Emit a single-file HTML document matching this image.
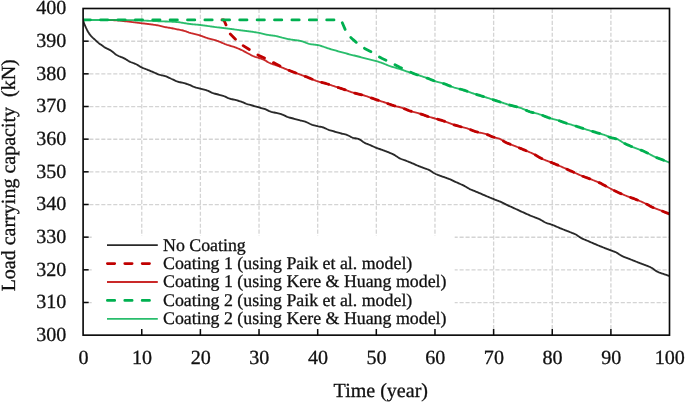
<!DOCTYPE html>
<html lang="en">
<head>
<meta charset="utf-8">
<title>Load carrying capacity vs Time</title>
<style>
html,body{margin:0;padding:0;background:#fff;}
body{width:685px;height:402px;overflow:hidden;position:relative;font-family:"Liberation Serif","Times New Roman",serif;}
</style>
</head>
<body>
<svg width="685" height="402" viewBox="0 0 685 402" style="position:absolute;left:0;top:0;will-change:transform;text-rendering:geometricPrecision"><rect x="0" y="0" width="685" height="402" fill="#fff"/><g stroke="#d4d4d4" stroke-width="1.3" stroke-dasharray="4.1 1.865" fill="none"><line x1="141.75" y1="8.90" x2="141.75" y2="334.55"/><line x1="200.39" y1="8.90" x2="200.39" y2="334.55"/><line x1="259.03" y1="8.90" x2="259.03" y2="334.55"/><line x1="317.68" y1="8.90" x2="317.68" y2="334.55"/><line x1="376.32" y1="8.90" x2="376.32" y2="334.55"/><line x1="434.97" y1="8.90" x2="434.97" y2="334.55"/><line x1="493.62" y1="8.90" x2="493.62" y2="334.55"/><line x1="552.26" y1="8.90" x2="552.26" y2="334.55"/><line x1="610.90" y1="8.90" x2="610.90" y2="334.55"/></g><g stroke="#d4d4d4" stroke-width="1.3" stroke-dasharray="4.1 1.871" fill="none"><line x1="83.38" y1="302.58" x2="668.90" y2="302.58"/><line x1="83.38" y1="269.92" x2="668.90" y2="269.92"/><line x1="83.38" y1="237.25" x2="668.90" y2="237.25"/><line x1="83.38" y1="204.59" x2="668.90" y2="204.59"/><line x1="83.38" y1="171.92" x2="668.90" y2="171.92"/><line x1="83.38" y1="139.26" x2="668.90" y2="139.26"/><line x1="83.38" y1="106.59" x2="668.90" y2="106.59"/><line x1="83.38" y1="73.93" x2="668.90" y2="73.93"/><line x1="83.38" y1="41.27" x2="668.90" y2="41.27"/></g><defs><clipPath id="pc"><rect x="83.1" y="8.5" width="586.4" height="326.65"/></clipPath></defs><g clip-path="url(#pc)"><path d="M83.15,20.00 L84.15,23.65 L85.15,25.86 L86.15,28.15 L87.15,30.19 L88.15,32.05 L89.15,33.62 L90.15,34.91 L91.15,36.05 L92.15,37.11 L93.15,38.09 L94.15,39.02 L95.16,39.94 L96.16,40.86 L97.16,41.77 L98.16,42.61 L99.16,43.40 L100.16,44.15 L101.16,44.87 L102.16,45.58 L103.16,46.29 L104.16,46.97 L105.16,47.61 L106.16,48.19 L107.16,48.69 L108.16,49.14 L109.16,49.61 L110.16,50.15 L111.16,50.79 L112.16,51.49 L113.16,52.25 L114.16,53.14 L115.16,54.03 L116.16,54.73 L117.16,55.29 L118.16,55.79 L119.17,56.25 L120.17,56.66 L121.17,57.05 L122.17,57.44 L123.17,57.86 L124.17,58.33 L125.17,58.89 L126.17,59.50 L127.17,60.13 L128.17,60.75 L129.17,61.33 L130.17,61.83 L131.17,62.25 L132.17,62.63 L133.17,63.00 L134.17,63.37 L135.17,63.77 L136.17,64.23 L137.17,64.78 L138.17,65.39 L139.17,66.02 L140.17,66.63 L141.17,67.19 L142.18,67.66 L143.18,68.09 L144.18,68.49 L145.18,68.87 L146.18,69.25 L147.18,69.63 L148.18,70.03 L149.18,70.45 L150.18,70.87 L151.18,71.30 L152.18,71.72 L153.18,72.14 L154.18,72.56 L155.18,72.99 L156.18,73.43 L157.18,73.87 L158.18,74.28 L159.18,74.65 L160.18,74.96 L161.18,75.23 L162.18,75.46 L163.18,75.68 L164.18,75.90 L165.18,76.16 L166.19,76.48 L167.19,76.87 L168.19,77.32 L169.19,77.80 L170.19,78.29 L171.19,78.77 L172.19,79.22 L173.19,79.68 L174.19,80.16 L175.19,80.62 L176.19,81.05 L177.19,81.43 L178.19,81.75 L179.19,82.03 L180.19,82.27 L181.19,82.50 L182.19,82.71 L183.19,82.94 L184.19,83.18 L185.19,83.46 L186.19,83.75 L187.19,84.07 L188.19,84.41 L189.20,84.77 L190.20,85.20 L191.20,85.68 L192.20,86.16 L193.20,86.61 L194.20,86.98 L195.20,87.30 L196.20,87.60 L197.20,87.87 L198.20,88.13 L199.20,88.38 L200.20,88.65 L201.20,88.91 L202.20,89.15 L203.20,89.39 L204.20,89.63 L205.20,89.89 L206.20,90.18 L207.20,90.51 L208.20,90.92 L209.20,91.41 L210.20,91.92 L211.20,92.42 L212.21,92.86 L213.21,93.21 L214.21,93.50 L215.21,93.76 L216.21,94.00 L217.21,94.24 L218.21,94.51 L219.21,94.78 L220.21,95.04 L221.21,95.31 L222.21,95.60 L223.21,95.90 L224.21,96.25 L225.21,96.66 L226.21,97.12 L227.21,97.60 L228.21,98.05 L229.21,98.45 L230.21,98.77 L231.21,99.03 L232.21,99.26 L233.21,99.48 L234.21,99.69 L235.21,99.93 L236.22,100.19 L237.22,100.46 L238.22,100.75 L239.22,101.04 L240.22,101.36 L241.22,101.69 L242.22,102.04 L243.22,102.45 L244.22,102.89 L245.22,103.33 L246.22,103.76 L247.22,104.14 L248.22,104.45 L249.22,104.71 L250.22,104.95 L251.22,105.21 L252.22,105.48 L253.22,105.76 L254.22,106.04 L255.22,106.33 L256.22,106.62 L257.22,106.90 L258.22,107.19 L259.23,107.47 L260.23,107.75 L261.23,108.02 L262.23,108.29 L263.23,108.57 L264.23,108.88 L265.23,109.22 L266.23,109.63 L267.23,110.10 L268.23,110.59 L269.23,111.06 L270.23,111.47 L271.23,111.80 L272.23,112.06 L273.23,112.30 L274.23,112.51 L275.23,112.72 L276.23,112.94 L277.23,113.18 L278.23,113.43 L279.23,113.67 L280.23,113.93 L281.23,114.22 L282.23,114.55 L283.24,114.97 L284.24,115.44 L285.24,115.94 L286.24,116.42 L287.24,116.85 L288.24,117.19 L289.24,117.49 L290.24,117.75 L291.24,118.00 L292.24,118.25 L293.24,118.50 L294.24,118.77 L295.24,119.06 L296.24,119.35 L297.24,119.64 L298.24,119.93 L299.24,120.21 L300.24,120.48 L301.24,120.72 L302.24,120.95 L303.24,121.18 L304.24,121.43 L305.24,121.71 L306.25,122.05 L307.25,122.48 L308.25,122.98 L309.25,123.50 L310.25,124.00 L311.25,124.43 L312.25,124.78 L313.25,125.08 L314.25,125.36 L315.25,125.62 L316.25,125.86 L317.25,126.11 L318.25,126.34 L319.25,126.54 L320.25,126.74 L321.25,126.96 L322.25,127.20 L323.25,127.49 L324.25,127.86 L325.25,128.29 L326.25,128.76 L327.25,129.23 L328.25,129.66 L329.25,130.02 L330.26,130.35 L331.26,130.66 L332.26,130.95 L333.26,131.23 L334.26,131.51 L335.26,131.80 L336.26,132.10 L337.26,132.38 L338.26,132.67 L339.26,132.95 L340.26,133.23 L341.26,133.49 L342.26,133.74 L343.26,133.96 L344.26,134.19 L345.26,134.44 L346.26,134.72 L347.26,135.05 L348.26,135.49 L349.26,136.01 L350.26,136.55 L351.26,137.07 L352.26,137.51 L353.27,137.84 L354.27,138.08 L355.27,138.28 L356.27,138.47 L357.27,138.67 L358.27,138.93 L359.27,139.28 L360.27,139.82 L361.27,140.49 L362.27,141.22 L363.27,141.94 L364.27,142.59 L365.27,143.10 L366.27,143.56 L367.27,143.97 L368.27,144.37 L369.27,144.76 L370.27,145.17 L371.27,145.60 L372.27,146.06 L373.27,146.52 L374.27,146.98 L375.27,147.42 L376.27,147.83 L377.28,148.21 L378.28,148.57 L379.28,148.91 L380.28,149.25 L381.28,149.59 L382.28,149.94 L383.28,150.30 L384.28,150.67 L385.28,151.05 L386.28,151.43 L387.28,151.82 L388.28,152.23 L389.28,152.63 L390.28,153.05 L391.28,153.47 L392.28,153.92 L393.28,154.39 L394.28,154.90 L395.28,155.50 L396.28,156.16 L397.28,156.84 L398.28,157.49 L399.28,158.09 L400.29,158.58 L401.29,159.00 L402.29,159.39 L403.29,159.75 L404.29,160.10 L405.29,160.47 L406.29,160.85 L407.29,161.25 L408.29,161.65 L409.29,162.05 L410.29,162.45 L411.29,162.87 L412.29,163.29 L413.29,163.72 L414.29,164.17 L415.29,164.61 L416.29,165.06 L417.29,165.49 L418.29,165.90 L419.29,166.31 L420.29,166.71 L421.29,167.10 L422.29,167.48 L423.30,167.86 L424.30,168.23 L425.30,168.57 L426.30,168.90 L427.30,169.25 L428.30,169.63 L429.30,170.09 L430.30,170.67 L431.30,171.32 L432.30,172.01 L433.30,172.68 L434.30,173.29 L435.30,173.79 L436.30,174.24 L437.30,174.65 L438.30,175.04 L439.30,175.42 L440.30,175.78 L441.30,176.15 L442.30,176.52 L443.30,176.88 L444.30,177.22 L445.30,177.56 L446.30,177.90 L447.31,178.26 L448.31,178.63 L449.31,179.02 L450.31,179.45 L451.31,179.90 L452.31,180.37 L453.31,180.85 L454.31,181.33 L455.31,181.80 L456.31,182.26 L457.31,182.70 L458.31,183.14 L459.31,183.58 L460.31,184.02 L461.31,184.47 L462.31,184.93 L463.31,185.41 L464.31,185.91 L465.31,186.47 L466.31,187.06 L467.31,187.67 L468.31,188.25 L469.31,188.81 L470.32,189.30 L471.32,189.75 L472.32,190.18 L473.32,190.59 L474.32,190.98 L475.32,191.37 L476.32,191.77 L477.32,192.18 L478.32,192.60 L479.32,193.03 L480.32,193.47 L481.32,193.90 L482.32,194.34 L483.32,194.78 L484.32,195.22 L485.32,195.65 L486.32,196.07 L487.32,196.49 L488.32,196.91 L489.32,197.33 L490.32,197.75 L491.32,198.16 L492.32,198.57 L493.32,198.98 L494.33,199.38 L495.33,199.77 L496.33,200.15 L497.33,200.53 L498.33,200.91 L499.33,201.31 L500.33,201.71 L501.33,202.14 L502.33,202.59 L503.33,203.08 L504.33,203.59 L505.33,204.11 L506.33,204.63 L507.33,205.12 L508.33,205.59 L509.33,206.04 L510.33,206.48 L511.33,206.92 L512.33,207.38 L513.33,207.84 L514.33,208.30 L515.33,208.76 L516.33,209.23 L517.34,209.69 L518.34,210.16 L519.34,210.62 L520.34,211.08 L521.34,211.54 L522.34,212.00 L523.34,212.46 L524.34,212.92 L525.34,213.38 L526.34,213.83 L527.34,214.28 L528.34,214.72 L529.34,215.16 L530.34,215.59 L531.34,215.99 L532.34,216.38 L533.34,216.76 L534.34,217.14 L535.34,217.52 L536.34,217.91 L537.34,218.30 L538.34,218.72 L539.34,219.17 L540.34,219.65 L541.35,220.20 L542.35,220.80 L543.35,221.41 L544.35,221.99 L545.35,222.50 L546.35,222.92 L547.35,223.28 L548.35,223.60 L549.35,223.90 L550.35,224.20 L551.35,224.52 L552.35,224.87 L553.35,225.26 L554.35,225.68 L555.35,226.11 L556.35,226.56 L557.35,227.01 L558.35,227.45 L559.35,227.88 L560.35,228.30 L561.35,228.70 L562.35,229.10 L563.35,229.50 L564.36,229.89 L565.36,230.28 L566.36,230.67 L567.36,231.07 L568.36,231.46 L569.36,231.86 L570.36,232.26 L571.36,232.65 L572.36,233.03 L573.36,233.42 L574.36,233.83 L575.36,234.28 L576.36,234.80 L577.36,235.43 L578.36,236.14 L579.36,236.87 L580.36,237.55 L581.36,238.11 L582.36,238.61 L583.36,239.07 L584.36,239.51 L585.36,239.93 L586.36,240.34 L587.37,240.75 L588.37,241.17 L589.37,241.60 L590.37,242.04 L591.37,242.48 L592.37,242.92 L593.37,243.35 L594.37,243.78 L595.37,244.22 L596.37,244.64 L597.37,245.06 L598.37,245.48 L599.37,245.89 L600.37,246.30 L601.37,246.70 L602.37,247.10 L603.37,247.49 L604.37,247.88 L605.37,248.27 L606.37,248.66 L607.37,249.04 L608.37,249.43 L609.37,249.81 L610.37,250.19 L611.38,250.56 L612.38,250.91 L613.38,251.26 L614.38,251.63 L615.38,252.04 L616.38,252.54 L617.38,253.13 L618.38,253.77 L619.38,254.43 L620.38,255.07 L621.38,255.65 L622.38,256.15 L623.38,256.61 L624.38,257.03 L625.38,257.44 L626.38,257.82 L627.38,258.20 L628.38,258.58 L629.38,258.96 L630.38,259.35 L631.38,259.75 L632.38,260.15 L633.38,260.55 L634.39,260.95 L635.39,261.34 L636.39,261.74 L637.39,262.14 L638.39,262.53 L639.39,262.93 L640.39,263.32 L641.39,263.71 L642.39,264.10 L643.39,264.48 L644.39,264.84 L645.39,265.20 L646.39,265.56 L647.39,265.94 L648.39,266.33 L649.39,266.75 L650.39,267.20 L651.39,267.71 L652.39,268.33 L653.39,269.02 L654.39,269.75 L655.39,270.46 L656.39,271.13 L657.39,271.70 L658.40,272.16 L659.40,272.56 L660.40,272.92 L661.40,273.26 L662.40,273.59 L663.40,273.93 L664.40,274.28 L665.40,274.64 L666.40,274.99 L667.40,275.35 L668.40,275.70 L669.40,276.05" fill="none" stroke="#000" stroke-opacity="0.84" stroke-width="1.85" stroke-linejoin="round"/><path d="M221.90,19.95 L223.85,19.95 L229.70,33.40 L235.60,39.30 L241.40,44.60 L247.30,48.30 L253.20,52.00 L259.00,55.60 L264.90,58.10 L270.80,61.30 L276.60,64.20 L282.50,67.30 L283.50,67.81 L284.50,68.32 L285.51,68.81 L286.51,69.28 L287.51,69.73 L288.51,70.16 L289.52,70.57 L290.52,70.97 L291.52,71.36 L292.52,71.74 L293.53,72.11 L294.53,72.47 L295.53,72.84 L296.53,73.21 L297.53,73.58 L298.54,73.96 L299.54,74.33 L300.54,74.70 L301.54,75.07 L302.55,75.44 L303.55,75.81 L304.55,76.18 L305.55,76.55 L306.56,76.93 L307.56,77.31 L308.56,77.70 L309.56,78.10 L310.57,78.52 L311.57,78.94 L312.57,79.37 L313.57,79.78 L314.57,80.19 L315.58,80.58 L316.58,80.95 L317.58,81.30 L318.58,81.61 L319.59,81.90 L320.59,82.18 L321.59,82.44 L322.59,82.69 L323.60,82.94 L324.60,83.20 L325.60,83.46 L326.60,83.73 L327.60,84.02 L328.61,84.33 L329.61,84.66 L330.61,85.00 L331.61,85.34 L332.62,85.69 L333.62,86.03 L334.62,86.37 L335.62,86.70 L336.63,87.03 L337.63,87.35 L338.63,87.67 L339.63,87.99 L340.64,88.31 L341.64,88.64 L342.64,88.96 L343.64,89.30 L344.64,89.64 L345.65,89.99 L346.65,90.36 L347.65,90.73 L348.65,91.10 L349.66,91.47 L350.66,91.84 L351.66,92.19 L352.66,92.52 L353.67,92.83 L354.67,93.12 L355.67,93.39 L356.67,93.64 L357.67,93.88 L358.68,94.11 L359.68,94.34 L360.68,94.58 L361.68,94.82 L362.69,95.08 L363.69,95.35 L364.69,95.65 L365.69,95.96 L366.70,96.29 L367.70,96.64 L368.70,96.99 L369.70,97.35 L370.71,97.71 L371.71,98.08 L372.71,98.44 L373.71,98.80 L374.71,99.16 L375.72,99.50 L376.72,99.84 L377.72,100.16 L378.72,100.48 L379.73,100.80 L380.73,101.12 L381.73,101.44 L382.73,101.76 L383.74,102.10 L384.74,102.44 L385.74,102.81 L386.74,103.18 L387.74,103.56 L388.75,103.94 L389.75,104.31 L390.75,104.68 L391.75,105.03 L392.76,105.36 L393.76,105.67 L394.76,105.94 L395.76,106.20 L396.77,106.43 L397.77,106.66 L398.77,106.90 L399.77,107.15 L400.78,107.43 L401.78,107.75 L402.78,108.10 L403.78,108.49 L404.78,108.89 L405.79,109.30 L406.79,109.72 L407.79,110.12 L408.79,110.50 L409.80,110.85 L410.80,111.17 L411.80,111.47 L412.80,111.75 L413.81,112.02 L414.81,112.29 L415.81,112.55 L416.81,112.82 L417.81,113.09 L418.82,113.38 L419.82,113.68 L420.82,113.99 L421.82,114.33 L422.83,114.68 L423.83,115.04 L424.83,115.40 L425.83,115.77 L426.84,116.12 L427.84,116.46 L428.84,116.79 L429.84,117.10 L430.85,117.38 L431.85,117.64 L432.85,117.89 L433.85,118.15 L434.85,118.42 L435.86,118.70 L436.86,118.98 L437.86,119.27 L438.86,119.56 L439.87,119.85 L440.87,120.16 L441.87,120.46 L442.87,120.78 L443.88,121.10 L444.88,121.43 L445.88,121.77 L446.88,122.14 L447.88,122.52 L448.89,122.91 L449.89,123.30 L450.89,123.69 L451.89,124.07 L452.90,124.44 L453.90,124.79 L454.90,125.11 L455.90,125.41 L456.91,125.70 L457.91,125.97 L458.91,126.23 L459.91,126.49 L460.92,126.74 L461.92,126.99 L462.92,127.25 L463.92,127.51 L464.92,127.78 L465.93,128.07 L466.93,128.38 L467.93,128.71 L468.93,129.07 L469.94,129.46 L470.94,129.86 L471.94,130.26 L472.94,130.66 L473.95,131.03 L474.95,131.39 L475.95,131.70 L476.95,131.98 L477.95,132.23 L478.96,132.46 L479.96,132.68 L480.96,132.89 L481.96,133.11 L482.97,133.33 L483.97,133.57 L484.97,133.83 L485.97,134.12 L486.98,134.47 L487.98,134.86 L488.98,135.29 L489.98,135.73 L490.98,136.17 L491.99,136.59 L492.99,136.96 L493.99,137.28 L494.99,137.54 L496.00,137.78 L497.00,138.02 L498.00,138.28 L499.00,138.60 L500.01,138.99 L501.01,139.51 L502.01,140.12 L503.01,140.76 L504.02,141.40 L505.02,142.00 L506.02,142.50 L507.02,142.96 L508.02,143.38 L509.03,143.78 L510.03,144.17 L511.03,144.55 L512.03,144.92 L513.04,145.29 L514.04,145.67 L515.04,146.06 L516.04,146.47 L517.05,146.89 L518.05,147.31 L519.05,147.74 L520.05,148.17 L521.05,148.60 L522.06,149.03 L523.06,149.47 L524.06,149.90 L525.06,150.33 L526.07,150.76 L527.07,151.17 L528.07,151.58 L529.07,151.99 L530.08,152.40 L531.08,152.83 L532.08,153.27 L533.08,153.74 L534.09,154.25 L535.09,154.80 L536.09,155.38 L537.09,155.98 L538.09,156.58 L539.10,157.18 L540.10,157.75 L541.10,158.28 L542.10,158.77 L543.11,159.23 L544.11,159.66 L545.11,160.07 L546.11,160.46 L547.12,160.85 L548.12,161.23 L549.12,161.61 L550.12,162.00 L551.12,162.39 L552.13,162.79 L553.13,163.20 L554.13,163.62 L555.13,164.03 L556.14,164.45 L557.14,164.88 L558.14,165.30 L559.14,165.73 L560.15,166.16 L561.15,166.59 L562.15,167.03 L563.15,167.47 L564.16,167.92 L565.16,168.38 L566.16,168.83 L567.16,169.29 L568.16,169.75 L569.17,170.20 L570.17,170.66 L571.17,171.12 L572.17,171.57 L573.18,172.02 L574.18,172.48 L575.18,172.94 L576.18,173.40 L577.19,173.86 L578.19,174.31 L579.19,174.76 L580.19,175.20 L581.19,175.62 L582.20,176.03 L583.20,176.43 L584.20,176.81 L585.20,177.19 L586.21,177.56 L587.21,177.92 L588.21,178.29 L589.21,178.66 L590.22,179.03 L591.22,179.41 L592.22,179.80 L593.22,180.19 L594.23,180.58 L595.23,180.98 L596.23,181.38 L597.23,181.79 L598.23,182.21 L599.24,182.65 L600.24,183.11 L601.24,183.61 L602.24,184.14 L603.25,184.69 L604.25,185.25 L605.25,185.80 L606.25,186.33 L607.26,186.87 L608.26,187.41 L609.26,187.95 L610.26,188.49 L611.26,189.02 L612.27,189.55 L613.27,190.07 L614.27,190.58 L615.27,191.08 L616.28,191.55 L617.28,192.02 L618.28,192.48 L619.28,192.92 L620.29,193.36 L621.29,193.80 L622.29,194.22 L623.29,194.64 L624.30,195.05 L625.30,195.46 L626.30,195.86 L627.30,196.25 L628.30,196.62 L629.31,196.99 L630.31,197.35 L631.31,197.71 L632.31,198.07 L633.32,198.43 L634.32,198.81 L635.32,199.19 L636.32,199.59 L637.33,199.99 L638.33,200.40 L639.33,200.82 L640.33,201.24 L641.33,201.67 L642.34,202.11 L643.34,202.56 L644.34,203.01 L645.34,203.48 L646.35,203.97 L647.35,204.49 L648.35,205.04 L649.35,205.60 L650.36,206.16 L651.36,206.70 L652.36,207.20 L653.36,207.65 L654.37,208.07 L655.37,208.47 L656.37,208.85 L657.37,209.23 L658.37,209.60 L659.38,209.96 L660.38,210.34 L661.38,210.72 L662.38,211.12 L663.39,211.53 L664.39,211.93 L665.39,212.34 L666.39,212.75 L667.40,213.16 L668.40,213.58 L669.40,214.00" fill="none" stroke="#c00000" stroke-width="2.8" stroke-linecap="round" stroke-dasharray="7.3 10.1" stroke-dashoffset="17.35" stroke-linejoin="round"/><path d="M106.00,20.05 L107.00,20.05 L108.00,20.06 L109.00,20.08 L110.00,20.10 L111.00,20.12 L112.00,20.15 L113.00,20.18 L114.01,20.23 L115.01,20.29 L116.01,20.36 L117.01,20.43 L118.01,20.50 L119.01,20.58 L120.01,20.67 L121.01,20.77 L122.01,20.87 L123.01,20.98 L124.01,21.09 L125.01,21.21 L126.01,21.33 L127.01,21.45 L128.02,21.58 L129.02,21.70 L130.02,21.81 L131.02,21.93 L132.02,22.05 L133.02,22.17 L134.02,22.30 L135.02,22.42 L136.02,22.55 L137.02,22.68 L138.02,22.80 L139.02,22.93 L140.02,23.05 L141.02,23.18 L142.03,23.30 L143.03,23.42 L144.03,23.54 L145.03,23.66 L146.03,23.78 L147.03,23.90 L148.03,24.02 L149.03,24.15 L150.03,24.28 L151.03,24.41 L152.03,24.54 L153.03,24.67 L154.03,24.81 L155.03,24.95 L156.04,25.11 L157.04,25.27 L158.04,25.44 L159.04,25.65 L160.04,25.88 L161.04,26.13 L162.04,26.38 L163.04,26.63 L164.04,26.86 L165.04,27.07 L166.04,27.25 L167.04,27.42 L168.04,27.58 L169.04,27.74 L170.05,27.91 L171.05,28.08 L172.05,28.27 L173.05,28.47 L174.05,28.68 L175.05,28.89 L176.05,29.11 L177.05,29.31 L178.05,29.50 L179.05,29.69 L180.05,29.87 L181.05,30.07 L182.05,30.28 L183.05,30.51 L184.06,30.79 L185.06,31.10 L186.06,31.44 L187.06,31.79 L188.06,32.15 L189.06,32.51 L190.06,32.84 L191.06,33.15 L192.06,33.43 L193.06,33.69 L194.06,33.94 L195.06,34.19 L196.06,34.44 L197.06,34.68 L198.07,34.94 L199.07,35.21 L200.07,35.50 L201.07,35.81 L202.07,36.17 L203.07,36.54 L204.07,36.92 L205.07,37.30 L206.07,37.66 L207.07,37.99 L208.07,38.29 L209.07,38.57 L210.07,38.84 L211.07,39.10 L212.08,39.35 L213.08,39.62 L214.08,39.88 L215.08,40.17 L216.08,40.47 L217.08,40.79 L218.08,41.15 L219.08,41.55 L220.08,41.96 L221.08,42.39 L222.08,42.83 L223.08,43.26 L224.08,43.69 L225.08,44.10 L226.09,44.48 L227.09,44.83 L228.09,45.15 L229.09,45.45 L230.09,45.74 L231.09,46.03 L232.09,46.32 L233.09,46.62 L234.09,46.94 L235.09,47.29 L236.09,47.67 L237.09,48.06 L238.09,48.48 L239.09,48.91 L240.10,49.35 L241.10,49.81 L242.10,50.29 L243.10,50.80 L244.10,51.34 L245.10,51.88 L246.10,52.43 L247.10,52.95 L248.10,53.48 L249.10,54.01 L250.10,54.55 L251.10,55.07 L252.10,55.56 L253.10,56.02 L254.11,56.43 L255.11,56.79 L256.11,57.11 L257.11,57.41 L258.11,57.71 L259.11,58.02 L260.11,58.38 L261.11,58.74 L262.11,59.12 L263.11,59.51 L264.11,59.93 L265.11,60.40 L266.11,60.92 L267.11,61.62 L268.12,62.26 L269.12,62.75 L270.12,63.18 L271.12,63.58 L272.12,63.95 L273.12,64.32 L274.12,64.66 L275.12,64.98 L276.12,65.29 L277.12,65.61 L278.12,65.96 L279.12,66.33 L280.12,66.72 L281.12,67.12 L282.13,67.53 L283.13,67.94 L284.13,68.36 L285.13,68.78 L286.13,69.19 L287.13,69.59 L288.13,69.99 L289.13,70.38 L290.13,70.77 L291.13,71.15 L292.13,71.54 L293.13,71.92 L294.13,72.30 L295.13,72.68 L296.13,73.05 L297.14,73.43 L298.14,73.81 L299.14,74.18 L300.14,74.55 L301.14,74.92 L302.14,75.29 L303.14,75.66 L304.14,76.03 L305.14,76.40 L306.14,76.77 L307.14,77.15 L308.14,77.53 L309.14,77.93 L310.14,78.34 L311.15,78.76 L312.15,79.19 L313.15,79.61 L314.15,80.02 L315.15,80.42 L316.15,80.80 L317.15,81.15 L318.15,81.48 L319.15,81.78 L320.15,82.06 L321.15,82.33 L322.15,82.58 L323.15,82.83 L324.15,83.08 L325.16,83.34 L326.16,83.61 L327.16,83.89 L328.16,84.19 L329.16,84.51 L330.16,84.84 L331.16,85.18 L332.16,85.53 L333.16,85.88 L334.16,86.22 L335.16,86.55 L336.16,86.88 L337.16,87.20 L338.16,87.52 L339.17,87.84 L340.17,88.16 L341.17,88.48 L342.17,88.81 L343.17,89.14 L344.17,89.47 L345.17,89.82 L346.17,90.18 L347.17,90.55 L348.17,90.93 L349.17,91.30 L350.17,91.66 L351.17,92.02 L352.17,92.36 L353.18,92.68 L354.18,92.98 L355.18,93.26 L356.18,93.51 L357.18,93.76 L358.18,93.99 L359.18,94.23 L360.18,94.46 L361.18,94.70 L362.18,94.95 L363.18,95.21 L364.18,95.50 L365.18,95.80 L366.18,96.12 L367.19,96.46 L368.19,96.81 L369.19,97.16 L370.19,97.52 L371.19,97.89 L372.19,98.25 L373.19,98.62 L374.19,98.97 L375.19,99.32 L376.19,99.66 L377.19,99.99 L378.19,100.32 L379.19,100.63 L380.19,100.95 L381.20,101.27 L382.20,101.59 L383.20,101.91 L384.20,102.25 L385.20,102.61 L386.20,102.98 L387.20,103.35 L388.20,103.73 L389.20,104.11 L390.20,104.48 L391.20,104.84 L392.20,105.18 L393.20,105.50 L394.20,105.79 L395.21,106.06 L396.21,106.30 L397.21,106.53 L398.21,106.77 L399.21,107.01 L400.21,107.27 L401.21,107.56 L402.21,107.90 L403.21,108.27 L404.21,108.66 L405.21,109.07 L406.21,109.48 L407.21,109.89 L408.21,110.28 L409.22,110.65 L410.22,110.99 L411.22,111.29 L412.22,111.58 L413.22,111.86 L414.22,112.13 L415.22,112.40 L416.22,112.66 L417.22,112.93 L418.22,113.21 L419.22,113.50 L420.22,113.80 L421.22,114.13 L422.22,114.47 L423.23,114.82 L424.23,115.18 L425.23,115.55 L426.23,115.91 L427.23,116.26 L428.23,116.59 L429.23,116.91 L430.23,117.21 L431.23,117.48 L432.23,117.74 L433.23,117.99 L434.23,118.25 L435.23,118.52 L436.23,118.80 L437.24,119.09 L438.24,119.37 L439.24,119.67 L440.24,119.96 L441.24,120.27 L442.24,120.58 L443.24,120.89 L444.24,121.22 L445.24,121.55 L446.24,121.90 L447.24,122.27 L448.24,122.66 L449.24,123.05 L450.24,123.44 L451.25,123.83 L452.25,124.20 L453.25,124.56 L454.25,124.90 L455.25,125.22 L456.25,125.51 L457.25,125.79 L458.25,126.06 L459.25,126.32 L460.25,126.57 L461.25,126.82 L462.25,127.08 L463.25,127.33 L464.25,127.60 L465.26,127.88 L466.26,128.17 L467.26,128.48 L468.26,128.83 L469.26,129.20 L470.26,129.59 L471.26,129.99 L472.26,130.39 L473.26,130.78 L474.26,131.15 L475.26,131.49 L476.26,131.79 L477.26,132.06 L478.26,132.30 L479.27,132.53 L480.27,132.75 L481.27,132.96 L482.27,133.17 L483.27,133.40 L484.27,133.65 L485.27,133.91 L486.27,134.22 L487.27,134.58 L488.27,134.98 L489.27,135.42 L490.27,135.86 L491.27,136.29 L492.27,136.70 L493.27,137.06 L494.28,137.36 L495.28,137.61 L496.28,137.85 L497.28,138.09 L498.28,138.36 L499.28,138.69 L500.28,139.13 L501.28,139.67 L502.28,140.29 L503.28,140.94 L504.28,141.57 L505.28,142.14 L506.28,142.63 L507.28,143.07 L508.29,143.49 L509.29,143.89 L510.29,144.27 L511.29,144.64 L512.29,145.01 L513.29,145.39 L514.29,145.77 L515.29,146.16 L516.29,146.57 L517.29,146.99 L518.29,147.41 L519.29,147.84 L520.29,148.27 L521.29,148.70 L522.30,149.14 L523.30,149.57 L524.30,150.00 L525.30,150.43 L526.30,150.85 L527.30,151.26 L528.30,151.67 L529.30,152.08 L530.30,152.50 L531.30,152.92 L532.30,153.37 L533.30,153.85 L534.30,154.37 L535.30,154.93 L536.31,155.51 L537.31,156.11 L538.31,156.71 L539.31,157.30 L540.31,157.86 L541.31,158.39 L542.31,158.87 L543.31,159.31 L544.31,159.74 L545.31,160.15 L546.31,160.54 L547.31,160.93 L548.31,161.31 L549.31,161.69 L550.32,162.07 L551.32,162.46 L552.32,162.87 L553.32,163.28 L554.32,163.69 L555.32,164.11 L556.32,164.53 L557.32,164.95 L558.32,165.38 L559.32,165.81 L560.32,166.24 L561.32,166.67 L562.32,167.11 L563.32,167.55 L564.33,168.00 L565.33,168.45 L566.33,168.91 L567.33,169.36 L568.33,169.82 L569.33,170.28 L570.33,170.73 L571.33,171.19 L572.33,171.64 L573.33,172.10 L574.33,172.55 L575.33,173.01 L576.33,173.47 L577.33,173.93 L578.34,174.38 L579.34,174.82 L580.34,175.26 L581.34,175.68 L582.34,176.09 L583.34,176.48 L584.34,176.86 L585.34,177.24 L586.34,177.60 L587.34,177.97 L588.34,178.33 L589.34,178.70 L590.34,179.08 L591.34,179.46 L592.35,179.85 L593.35,180.24 L594.35,180.63 L595.35,181.02 L596.35,181.42 L597.35,181.83 L598.35,182.26 L599.35,182.70 L600.35,183.17 L601.35,183.67 L602.35,184.20 L603.35,184.75 L604.35,185.30 L605.35,185.85 L606.36,186.39 L607.36,186.92 L608.36,187.46 L609.36,188.00 L610.36,188.54 L611.36,189.07 L612.36,189.60 L613.36,190.12 L614.36,190.63 L615.36,191.12 L616.36,191.59 L617.36,192.06 L618.36,192.51 L619.36,192.96 L620.37,193.40 L621.37,193.83 L622.37,194.25 L623.37,194.67 L624.37,195.08 L625.37,195.49 L626.37,195.89 L627.37,196.27 L628.37,196.64 L629.37,197.01 L630.37,197.37 L631.37,197.73 L632.37,198.09 L633.37,198.45 L634.38,198.83 L635.38,199.21 L636.38,199.61 L637.38,200.02 L638.38,200.42 L639.38,200.84 L640.38,201.26 L641.38,201.69 L642.38,202.13 L643.38,202.58 L644.38,203.03 L645.38,203.50 L646.38,203.99 L647.38,204.51 L648.39,205.06 L649.39,205.62 L650.39,206.18 L651.39,206.71 L652.39,207.21 L653.39,207.66 L654.39,208.08 L655.39,208.48 L656.39,208.86 L657.39,209.23 L658.39,209.60 L659.39,209.97 L660.39,210.34 L661.39,210.73 L662.40,211.13 L663.40,211.53 L664.40,211.93 L665.40,212.34 L666.40,212.75 L667.40,213.17 L668.40,213.58 L669.40,214.00" fill="none" stroke="#c00000" stroke-opacity="0.84" stroke-width="1.85" stroke-linejoin="round"/><path d="M83.10,19.95 L341.14,19.95 L347.00,33.90 L352.87,39.40 L358.73,44.40 L364.60,48.40 L370.46,51.40 L376.30,55.40 L382.20,58.55 L388.05,61.20 L393.90,64.20 L399.80,67.20 L405.60,69.90 L411.50,72.60 L412.50,73.03 L413.51,73.44 L414.51,73.85 L415.51,74.23 L416.52,74.60 L417.52,74.94 L418.52,75.28 L419.53,75.60 L420.53,75.92 L421.54,76.23 L422.54,76.55 L423.54,76.87 L424.55,77.20 L425.55,77.54 L426.55,77.90 L427.56,78.27 L428.56,78.66 L429.56,79.06 L430.57,79.46 L431.57,79.86 L432.57,80.25 L433.58,80.62 L434.58,80.98 L435.58,81.30 L436.59,81.61 L437.59,81.90 L438.59,82.18 L439.60,82.45 L440.60,82.73 L441.61,83.01 L442.61,83.30 L443.61,83.61 L444.62,83.94 L445.62,84.30 L446.62,84.68 L447.63,85.07 L448.63,85.47 L449.63,85.87 L450.64,86.26 L451.64,86.64 L452.64,87.00 L453.65,87.34 L454.65,87.64 L455.65,87.93 L456.66,88.20 L457.66,88.46 L458.66,88.72 L459.67,88.97 L460.67,89.23 L461.68,89.49 L462.68,89.77 L463.68,90.06 L464.69,90.38 L465.69,90.72 L466.69,91.08 L467.70,91.45 L468.70,91.82 L469.70,92.20 L470.71,92.58 L471.71,92.94 L472.71,93.30 L473.72,93.64 L474.72,93.96 L475.72,94.27 L476.73,94.58 L477.73,94.87 L478.73,95.17 L479.74,95.46 L480.74,95.75 L481.75,96.05 L482.75,96.35 L483.75,96.67 L484.76,96.99 L485.76,97.31 L486.76,97.65 L487.77,97.98 L488.77,98.32 L489.77,98.65 L490.78,98.98 L491.78,99.30 L492.78,99.62 L493.79,99.94 L494.79,100.26 L495.79,100.58 L496.80,100.90 L497.80,101.22 L498.80,101.53 L499.81,101.85 L500.81,102.18 L501.82,102.51 L502.82,102.84 L503.82,103.17 L504.83,103.51 L505.83,103.84 L506.83,104.16 L507.84,104.48 L508.84,104.79 L509.84,105.08 L510.85,105.36 L511.85,105.63 L512.85,105.88 L513.86,106.12 L514.86,106.36 L515.86,106.60 L516.87,106.86 L517.87,107.12 L518.87,107.40 L519.88,107.71 L520.88,108.05 L521.89,108.43 L522.89,108.85 L523.89,109.28 L524.90,109.72 L525.90,110.17 L526.90,110.60 L527.91,111.01 L528.91,111.39 L529.91,111.74 L530.92,112.04 L531.92,112.33 L532.92,112.60 L533.93,112.85 L534.93,113.10 L535.93,113.35 L536.94,113.61 L537.94,113.87 L538.94,114.16 L539.95,114.46 L540.95,114.80 L541.96,115.16 L542.96,115.54 L543.96,115.93 L544.97,116.33 L545.97,116.72 L546.97,117.11 L547.98,117.48 L548.98,117.82 L549.98,118.14 L550.99,118.42 L551.99,118.69 L552.99,118.94 L554.00,119.19 L555.00,119.45 L556.00,119.71 L557.01,120.00 L558.01,120.32 L559.01,120.65 L560.02,121.00 L561.02,121.36 L562.03,121.73 L563.03,122.09 L564.03,122.45 L565.04,122.80 L566.04,123.13 L567.04,123.45 L568.05,123.75 L569.05,124.06 L570.05,124.35 L571.06,124.65 L572.06,124.94 L573.06,125.24 L574.07,125.54 L575.07,125.84 L576.07,126.16 L577.08,126.48 L578.08,126.81 L579.08,127.14 L580.09,127.48 L581.09,127.82 L582.10,128.16 L583.10,128.50 L584.10,128.84 L585.11,129.16 L586.11,129.48 L587.11,129.79 L588.12,130.10 L589.12,130.41 L590.12,130.71 L591.13,131.01 L592.13,131.31 L593.13,131.60 L594.14,131.90 L595.14,132.20 L596.14,132.50 L597.15,132.80 L598.15,133.08 L599.15,133.36 L600.16,133.64 L601.16,133.93 L602.17,134.22 L603.17,134.53 L604.17,134.85 L605.18,135.19 L606.18,135.57 L607.18,136.02 L608.19,136.50 L609.19,136.97 L610.19,137.37 L611.20,137.66 L612.20,137.90 L613.20,138.11 L614.21,138.32 L615.21,138.55 L616.21,138.81 L617.22,139.15 L618.22,139.61 L619.22,140.16 L620.23,140.78 L621.23,141.43 L622.24,142.08 L623.24,142.71 L624.24,143.27 L625.25,143.76 L626.25,144.24 L627.25,144.70 L628.26,145.14 L629.26,145.58 L630.26,146.00 L631.27,146.42 L632.27,146.83 L633.27,147.24 L634.28,147.65 L635.28,148.05 L636.28,148.45 L637.29,148.82 L638.29,149.19 L639.29,149.56 L640.30,149.92 L641.30,150.29 L642.31,150.68 L643.31,151.07 L644.31,151.49 L645.32,151.93 L646.32,152.42 L647.32,152.93 L648.33,153.47 L649.33,154.02 L650.33,154.58 L651.34,155.13 L652.34,155.66 L653.34,156.17 L654.35,156.65 L655.35,157.08 L656.35,157.49 L657.36,157.88 L658.36,158.25 L659.36,158.61 L660.37,158.97 L661.37,159.34 L662.38,159.72 L663.38,160.12 L664.38,160.52 L665.39,160.93 L666.39,161.34 L667.39,161.76 L668.40,162.18 L669.40,162.60" fill="none" stroke="#00b050" stroke-width="2.8" stroke-linecap="round" stroke-dasharray="7.3 10.1" stroke-linejoin="round"/><path d="M83.10,19.95 L84.10,19.95 L85.10,19.95 L86.10,19.95 L87.10,19.95 L88.10,19.95 L89.10,19.95 L90.10,19.95 L91.10,19.95 L92.10,19.95 L93.11,19.95 L94.11,19.95 L95.11,19.95 L96.11,19.95 L97.11,19.95 L98.11,19.95 L99.11,19.95 L100.11,19.95 L101.11,19.95 L102.11,19.95 L103.11,19.95 L104.11,19.95 L105.11,19.95 L106.11,19.95 L107.11,19.95 L108.11,19.95 L109.11,19.95 L110.11,19.95 L111.11,19.95 L112.11,19.95 L113.12,19.95 L114.12,19.95 L115.12,19.95 L116.12,19.95 L117.12,19.95 L118.12,19.95 L119.12,19.95 L120.12,19.96 L121.12,19.97 L122.12,19.98 L123.12,20.00 L124.12,20.02 L125.12,20.04 L126.12,20.06 L127.12,20.09 L128.12,20.11 L129.12,20.13 L130.12,20.15 L131.12,20.18 L132.13,20.20 L133.13,20.23 L134.13,20.25 L135.13,20.28 L136.13,20.32 L137.13,20.35 L138.13,20.38 L139.13,20.41 L140.13,20.45 L141.13,20.48 L142.13,20.52 L143.13,20.56 L144.13,20.59 L145.13,20.64 L146.13,20.68 L147.13,20.72 L148.13,20.76 L149.13,20.81 L150.13,20.85 L151.13,20.90 L152.14,20.95 L153.14,20.99 L154.14,21.04 L155.14,21.08 L156.14,21.13 L157.14,21.17 L158.14,21.21 L159.14,21.26 L160.14,21.29 L161.14,21.33 L162.14,21.37 L163.14,21.40 L164.14,21.44 L165.14,21.47 L166.14,21.50 L167.14,21.54 L168.14,21.58 L169.14,21.62 L170.14,21.66 L171.15,21.70 L172.15,21.75 L173.15,21.80 L174.15,21.85 L175.15,21.91 L176.15,21.98 L177.15,22.05 L178.15,22.15 L179.15,22.27 L180.15,22.41 L181.15,22.57 L182.15,22.74 L183.15,22.91 L184.15,23.09 L185.15,23.27 L186.15,23.45 L187.15,23.61 L188.15,23.77 L189.15,23.91 L190.15,24.03 L191.16,24.14 L192.16,24.24 L193.16,24.33 L194.16,24.42 L195.16,24.51 L196.16,24.59 L197.16,24.68 L198.16,24.77 L199.16,24.87 L200.16,24.97 L201.16,25.09 L202.16,25.21 L203.16,25.34 L204.16,25.47 L205.16,25.61 L206.16,25.76 L207.16,25.90 L208.16,26.05 L209.16,26.20 L210.17,26.35 L211.17,26.50 L212.17,26.64 L213.17,26.78 L214.17,26.92 L215.17,27.05 L216.17,27.17 L217.17,27.30 L218.17,27.42 L219.17,27.54 L220.17,27.66 L221.17,27.78 L222.17,27.90 L223.17,28.02 L224.17,28.14 L225.17,28.26 L226.17,28.38 L227.17,28.51 L228.17,28.64 L229.17,28.77 L230.18,28.89 L231.18,29.02 L232.18,29.16 L233.18,29.29 L234.18,29.42 L235.18,29.55 L236.18,29.68 L237.18,29.82 L238.18,29.95 L239.18,30.09 L240.18,30.22 L241.18,30.36 L242.18,30.49 L243.18,30.62 L244.18,30.75 L245.18,30.88 L246.18,31.01 L247.18,31.13 L248.18,31.26 L249.18,31.39 L250.19,31.52 L251.19,31.65 L252.19,31.79 L253.19,31.93 L254.19,32.07 L255.19,32.22 L256.19,32.38 L257.19,32.54 L258.19,32.71 L259.19,32.89 L260.19,33.10 L261.19,33.33 L262.19,33.57 L263.19,33.82 L264.19,34.08 L265.19,34.32 L266.19,34.55 L267.19,34.77 L268.19,34.95 L269.20,35.11 L270.20,35.26 L271.20,35.39 L272.20,35.51 L273.20,35.64 L274.20,35.78 L275.20,35.92 L276.20,36.09 L277.20,36.28 L278.20,36.52 L279.20,36.79 L280.20,37.08 L281.20,37.37 L282.20,37.65 L283.20,37.90 L284.20,38.13 L285.20,38.37 L286.20,38.60 L287.20,38.82 L288.20,39.04 L289.21,39.25 L290.21,39.44 L291.21,39.62 L292.21,39.78 L293.21,39.92 L294.21,40.04 L295.21,40.16 L296.21,40.27 L297.21,40.38 L298.21,40.51 L299.21,40.66 L300.21,40.84 L301.21,41.08 L302.21,41.38 L303.21,41.72 L304.21,42.10 L305.21,42.48 L306.21,42.87 L307.21,43.23 L308.22,43.56 L309.22,43.84 L310.22,44.05 L311.22,44.22 L312.22,44.36 L313.22,44.48 L314.22,44.60 L315.22,44.72 L316.22,44.86 L317.22,45.01 L318.22,45.20 L319.22,45.44 L320.22,45.70 L321.22,46.00 L322.22,46.31 L323.22,46.65 L324.22,47.00 L325.22,47.35 L326.22,47.70 L327.22,48.05 L328.23,48.39 L329.23,48.71 L330.23,49.01 L331.23,49.30 L332.23,49.59 L333.23,49.88 L334.23,50.16 L335.23,50.44 L336.23,50.71 L337.23,50.99 L338.23,51.27 L339.23,51.54 L340.23,51.82 L341.23,52.10 L342.23,52.37 L343.23,52.65 L344.23,52.92 L345.23,53.20 L346.23,53.47 L347.24,53.74 L348.24,54.00 L349.24,54.27 L350.24,54.53 L351.24,54.78 L352.24,55.03 L353.24,55.28 L354.24,55.52 L355.24,55.76 L356.24,56.01 L357.24,56.25 L358.24,56.50 L359.24,56.76 L360.24,57.02 L361.24,57.28 L362.24,57.56 L363.24,57.83 L364.24,58.11 L365.24,58.39 L366.24,58.67 L367.25,58.94 L368.25,59.21 L369.25,59.46 L370.25,59.71 L371.25,59.94 L372.25,60.17 L373.25,60.39 L374.25,60.63 L375.25,60.88 L376.25,61.14 L377.25,61.42 L378.25,61.72 L379.25,62.02 L380.25,62.34 L381.25,62.68 L382.25,63.03 L383.25,63.41 L384.25,63.81 L385.25,64.24 L386.26,64.67 L387.26,65.09 L388.26,65.50 L389.26,65.89 L390.26,66.24 L391.26,66.56 L392.26,66.87 L393.26,67.16 L394.26,67.45 L395.26,67.73 L396.26,68.01 L397.26,68.29 L398.26,68.58 L399.26,68.88 L400.26,69.20 L401.26,69.53 L402.26,69.88 L403.26,70.23 L404.26,70.58 L405.26,70.93 L406.27,71.28 L407.27,71.62 L408.27,71.95 L409.27,72.28 L410.27,72.59 L411.27,72.91 L412.27,73.22 L413.27,73.53 L414.27,73.84 L415.27,74.16 L416.27,74.48 L417.27,74.81 L418.27,75.13 L419.27,75.45 L420.27,75.77 L421.27,76.10 L422.27,76.43 L423.27,76.76 L424.27,77.10 L425.28,77.45 L426.28,77.80 L427.28,78.17 L428.28,78.55 L429.28,78.95 L430.28,79.35 L431.28,79.75 L432.28,80.14 L433.28,80.51 L434.28,80.87 L435.28,81.21 L436.28,81.52 L437.28,81.81 L438.28,82.09 L439.28,82.37 L440.28,82.64 L441.28,82.91 L442.28,83.20 L443.28,83.50 L444.28,83.83 L445.29,84.18 L446.29,84.55 L447.29,84.94 L448.29,85.33 L449.29,85.73 L450.29,86.12 L451.29,86.51 L452.29,86.87 L453.29,87.22 L454.29,87.54 L455.29,87.83 L456.29,88.10 L457.29,88.37 L458.29,88.62 L459.29,88.87 L460.29,89.13 L461.29,89.39 L462.29,89.66 L463.29,89.95 L464.30,90.26 L465.30,90.59 L466.30,90.94 L467.30,91.30 L468.30,91.67 L469.30,92.05 L470.30,92.42 L471.30,92.80 L472.30,93.16 L473.30,93.50 L474.30,93.83 L475.30,94.14 L476.30,94.45 L477.30,94.75 L478.30,95.04 L479.30,95.33 L480.30,95.62 L481.30,95.92 L482.30,96.22 L483.30,96.53 L484.31,96.84 L485.31,97.17 L486.31,97.50 L487.31,97.83 L488.31,98.16 L489.31,98.49 L490.31,98.82 L491.31,99.15 L492.31,99.47 L493.31,99.79 L494.31,100.11 L495.31,100.43 L496.31,100.74 L497.31,101.06 L498.31,101.38 L499.31,101.70 L500.31,102.02 L501.31,102.34 L502.31,102.67 L503.32,103.00 L504.32,103.34 L505.32,103.67 L506.32,104.00 L507.32,104.32 L508.32,104.63 L509.32,104.93 L510.32,105.22 L511.32,105.49 L512.32,105.75 L513.32,105.99 L514.32,106.23 L515.32,106.47 L516.32,106.72 L517.32,106.97 L518.32,107.25 L519.32,107.54 L520.32,107.86 L521.32,108.22 L522.32,108.61 L523.33,109.03 L524.33,109.47 L525.33,109.91 L526.33,110.35 L527.33,110.78 L528.33,111.18 L529.33,111.54 L530.33,111.87 L531.33,112.16 L532.33,112.44 L533.33,112.70 L534.33,112.95 L535.33,113.20 L536.33,113.45 L537.33,113.71 L538.33,113.98 L539.33,114.27 L540.33,114.59 L541.33,114.93 L542.33,115.30 L543.34,115.68 L544.34,116.08 L545.34,116.47 L546.34,116.86 L547.34,117.24 L548.34,117.60 L549.34,117.94 L550.34,118.24 L551.34,118.52 L552.34,118.78 L553.34,119.03 L554.34,119.28 L555.34,119.54 L556.34,119.81 L557.34,120.10 L558.34,120.42 L559.34,120.76 L560.34,121.12 L561.34,121.48 L562.35,121.84 L563.35,122.20 L564.35,122.56 L565.35,122.90 L566.35,123.23 L567.35,123.54 L568.35,123.85 L569.35,124.15 L570.35,124.44 L571.35,124.73 L572.35,125.03 L573.35,125.32 L574.35,125.62 L575.35,125.93 L576.35,126.24 L577.35,126.57 L578.35,126.90 L579.35,127.23 L580.35,127.57 L581.35,127.91 L582.36,128.25 L583.36,128.59 L584.36,128.92 L585.36,129.24 L586.36,129.56 L587.36,129.87 L588.36,130.18 L589.36,130.48 L590.36,130.78 L591.36,131.08 L592.36,131.37 L593.36,131.67 L594.36,131.97 L595.36,132.27 L596.36,132.57 L597.36,132.86 L598.36,133.14 L599.36,133.42 L600.36,133.70 L601.37,133.99 L602.37,134.28 L603.37,134.59 L604.37,134.92 L605.37,135.26 L606.37,135.65 L607.37,136.11 L608.37,136.59 L609.37,137.05 L610.37,137.42 L611.37,137.71 L612.37,137.94 L613.37,138.15 L614.37,138.36 L615.37,138.59 L616.37,138.86 L617.37,139.22 L618.37,139.69 L619.37,140.25 L620.37,140.87 L621.38,141.52 L622.38,142.17 L623.38,142.79 L624.38,143.34 L625.38,143.83 L626.38,144.30 L627.38,144.76 L628.38,145.20 L629.38,145.63 L630.38,146.05 L631.38,146.47 L632.38,146.88 L633.38,147.28 L634.38,147.69 L635.38,148.09 L636.38,148.48 L637.38,148.86 L638.38,149.23 L639.38,149.59 L640.39,149.95 L641.39,150.33 L642.39,150.71 L643.39,151.10 L644.39,151.52 L645.39,151.97 L646.39,152.45 L647.39,152.97 L648.39,153.50 L649.39,154.05 L650.39,154.61 L651.39,155.16 L652.39,155.69 L653.39,156.20 L654.39,156.67 L655.39,157.10 L656.39,157.51 L657.39,157.89 L658.39,158.26 L659.39,158.62 L660.40,158.98 L661.40,159.35 L662.40,159.73 L663.40,160.13 L664.40,160.53 L665.40,160.93 L666.40,161.34 L667.40,161.76 L668.40,162.18 L669.40,162.60" fill="none" stroke="#00b050" stroke-opacity="0.84" stroke-width="1.85" stroke-linejoin="round"/></g><rect x="91.7" y="235.7" width="363.0" height="94" fill="#fff"/><line x1="107.0" y1="245.1" x2="157.8" y2="245.1" stroke="#000" stroke-opacity="0.84" stroke-width="1.85"/><line x1="107.4" y1="263.55" x2="157.8" y2="263.55" stroke="#c00000" stroke-width="2.8" stroke-linecap="round" stroke-dasharray="7.3 10.1"/><line x1="107.0" y1="282.0" x2="157.8" y2="282.0" stroke="#c00000" stroke-opacity="0.84" stroke-width="1.85"/><line x1="107.4" y1="300.45" x2="157.8" y2="300.45" stroke="#00b050" stroke-width="2.8" stroke-linecap="round" stroke-dasharray="7.3 10.1"/><line x1="107.0" y1="318.85" x2="157.8" y2="318.85" stroke="#00b050" stroke-opacity="0.84" stroke-width="1.85"/><rect x="83.1" y="8.5" width="586.4" height="326.65" fill="none" stroke="#0a0a0a" stroke-width="1.65"/><g stroke="#0a0a0a" stroke-width="1.5"><line x1="141.75" y1="335.15" x2="141.75" y2="329.00"/><line x1="200.39" y1="335.15" x2="200.39" y2="329.00"/><line x1="259.03" y1="335.15" x2="259.03" y2="329.00"/><line x1="317.68" y1="335.15" x2="317.68" y2="329.00"/><line x1="376.32" y1="335.15" x2="376.32" y2="329.00"/><line x1="434.97" y1="335.15" x2="434.97" y2="329.00"/><line x1="493.62" y1="335.15" x2="493.62" y2="329.00"/><line x1="552.26" y1="335.15" x2="552.26" y2="329.00"/><line x1="610.90" y1="335.15" x2="610.90" y2="329.00"/><line x1="83.10" y1="302.48" x2="88.70" y2="302.48"/><line x1="83.10" y1="269.82" x2="88.70" y2="269.82"/><line x1="83.10" y1="237.15" x2="88.70" y2="237.15"/><line x1="83.10" y1="204.49" x2="88.70" y2="204.49"/><line x1="83.10" y1="171.82" x2="88.70" y2="171.82"/><line x1="83.10" y1="139.16" x2="88.70" y2="139.16"/><line x1="83.10" y1="106.50" x2="88.70" y2="106.50"/><line x1="83.10" y1="73.83" x2="88.70" y2="73.83"/><line x1="83.10" y1="41.17" x2="88.70" y2="41.17"/></g><g font-family="'Liberation Serif', 'Times New Roman', serif" font-size="20.1" fill="#111" stroke="#111" stroke-width="0.3"><text x="66.4" y="340.90" text-anchor="end">300</text><text x="66.4" y="308.23" text-anchor="end">310</text><text x="66.4" y="275.57" text-anchor="end">320</text><text x="66.4" y="242.90" text-anchor="end">330</text><text x="66.4" y="210.24" text-anchor="end">340</text><text x="66.4" y="177.57" text-anchor="end">350</text><text x="66.4" y="144.91" text-anchor="end">360</text><text x="66.4" y="112.25" text-anchor="end">370</text><text x="66.4" y="79.58" text-anchor="end">380</text><text x="66.4" y="46.92" text-anchor="end">390</text><text x="66.4" y="14.25" text-anchor="end">400</text><text x="83.40" y="364.15" text-anchor="middle">0</text><text x="142.05" y="364.15" text-anchor="middle">10</text><text x="200.69" y="364.15" text-anchor="middle">20</text><text x="259.33" y="364.15" text-anchor="middle">30</text><text x="317.98" y="364.15" text-anchor="middle">40</text><text x="376.62" y="364.15" text-anchor="middle">50</text><text x="435.27" y="364.15" text-anchor="middle">60</text><text x="493.92" y="364.15" text-anchor="middle">70</text><text x="552.56" y="364.15" text-anchor="middle">80</text><text x="611.20" y="364.15" text-anchor="middle">90</text><text x="669.85" y="364.15" text-anchor="middle">100</text><text x="163.0" y="250.55" font-size="17.85">No Coating</text><text x="163.0" y="269.00" font-size="17.85">Coating 1 (using Paik et al. model)</text><text x="163.0" y="287.45" font-size="17.85">Coating 1 (using Kere &amp; Huang model)</text><text x="163.0" y="305.90" font-size="17.85">Coating 2 (using Paik et al. model)</text><text x="163.0" y="324.30" font-size="17.85">Coating 2 (using Kere &amp; Huang model)</text><text x="380.8" y="396.75" text-anchor="middle" font-size="20.05">Time (year)</text><text transform="translate(15.2,175.3) rotate(-90)" text-anchor="middle" font-size="20" xml:space="preserve" style="white-space:pre">Load carrying capacity  (kN)</text></g></svg>
</body>
</html>
